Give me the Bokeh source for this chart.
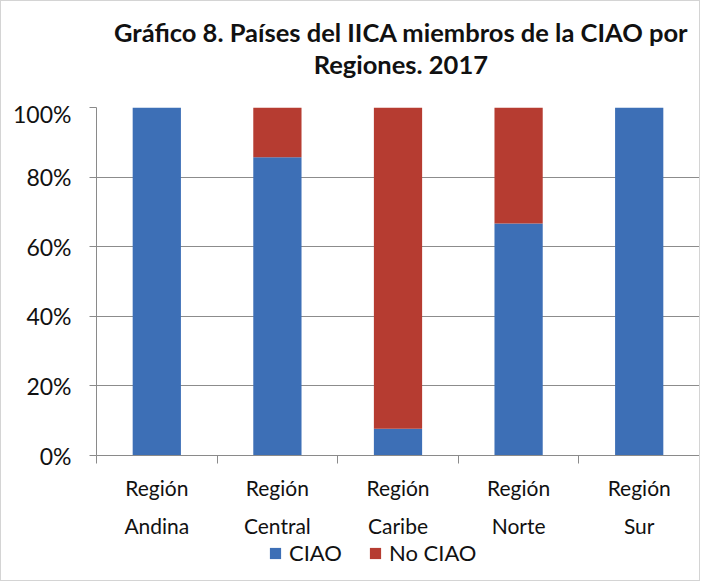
from bokeh.plotting import figure
from bokeh.layouts import column
from bokeh.models import (Range1d, FixedTicker, NumeralTickFormatter, LinearAxis,
                          Legend, LegendItem, Div)
from bokeh.embed import file_html
from bokeh.resources import INLINE

categories_line1 = ["Región", "Región", "Región", "Región", "Región"]
categories_line2 = ["Andina", "Central", "Caribe", "Norte", "Sur"]
series = ["CIAO", "No CIAO"]
ciao = [1.0, 0.857, 0.077, 0.667, 1.0]
no_ciao = [0.0, 0.143, 0.923, 0.333, 0.0]
y_ticks = [0, 0.2, 0.4, 0.6, 0.8, 1.0]
title_lines = ["Gráfico 8. Países del IICA miembros de la CIAO por", "Regiones. 2017"]

colors = ["#3D6FB6", "#B63C31"]
FONT = "Lato"
n = len(categories_line2)
xs = [i + 0.5 for i in range(n)]
W = 700

# title block
inner_style = ("font-family:Lato;font-weight:bold;font-size:25.5px;line-height:32px;"
               "text-align:center;color:#111111;padding:10px 0 0 84px;"
               "white-space:nowrap;position:relative;left:24px;")
title = Div(text='<div style="%s">%s</div>' % (inner_style, "<br>".join(title_lines)),
            width=W, height=88)

p = figure(width=W, height=441, output_backend="svg", toolbar_location=None,
           title=None, x_range=Range1d(0, n), y_range=Range1d(0, 1),
           min_border_left=95, min_border_right=0, min_border_top=8,
           min_border_bottom=83)
p.outline_line_color = None

source = dict(x=xs, CIAO=ciao)
source["No CIAO"] = no_ciao
rs = p.vbar_stack(series, x="x", width=0.4, color=colors, line_color=None,
                  source=source)

# y axis
p.yaxis.ticker = FixedTicker(ticks=y_ticks)
p.yaxis.formatter = NumeralTickFormatter(format="0%")
p.yaxis.major_label_text_font = FONT
p.yaxis.major_label_text_font_size = "23px"
p.yaxis.major_label_text_color = "#111111"
p.yaxis.axis_line_color = "#8a8a8a"
p.yaxis.major_tick_line_color = "#8a8a8a"
p.yaxis.major_tick_out = 7
p.yaxis.major_tick_in = 0
p.yaxis.minor_tick_line_color = None
p.yaxis.major_label_standoff = 18

p.ygrid.ticker = FixedTicker(ticks=y_ticks)
p.ygrid.grid_line_color = "#8c8c8c"
p.xgrid.grid_line_color = None

# x axis: first line of labels, ticks at boundaries (minor ticks)
xa = p.xaxis[0]
xa.ticker = FixedTicker(ticks=xs, minor_ticks=list(range(n + 1)))
xa.major_label_overrides = {x: t for x, t in zip(xs, categories_line1)}
xa.major_tick_line_color = None
xa.minor_tick_line_color = "#8a8a8a"
xa.minor_tick_out = 8
xa.minor_tick_in = 0
xa.axis_line_color = "#8a8a8a"
xa.major_label_text_font = FONT
xa.major_label_text_font_size = "21px"
xa.major_label_text_color = "#111111"
xa.major_label_standoff = 11

# second line of labels
xa2 = LinearAxis(ticker=FixedTicker(ticks=xs))
xa2.major_label_overrides = {x: t for x, t in zip(xs, categories_line2)}
xa2.axis_line_color = None
xa2.major_tick_line_color = None
xa2.minor_tick_line_color = None
xa2.major_label_text_font = FONT
xa2.major_label_text_font_size = "21px"
xa2.major_label_text_color = "#111111"
xa2.major_label_standoff = 4
p.add_layout(xa2, "below")

# legend in its own strip below (same series; the strip's bars are hidden)
lg = figure(width=W, height=40, output_backend="svg", toolbar_location=None,
            x_range=Range1d(100, 101), y_range=Range1d(5, 6),
            x_axis_type=None, y_axis_type=None,
            min_border_left=95, min_border_right=0, min_border_top=0,
            min_border_bottom=0, outline_line_color=None)
lg.grid.visible = False
lrs = lg.vbar_stack(series, x="x", width=0.4, color=colors, line_color=None,
                    source=dict(source))
for r in lrs:
    r.visible = False
legend = Legend(items=[LegendItem(label=s, renderers=[r]) for s, r in zip(series, lrs)],
                orientation="horizontal", location=(172, 14),
                label_text_font=FONT, label_text_font_size="22px",
                label_text_color="#111111", glyph_width=14, glyph_height=14,
                label_standoff=7, spacing=26, padding=0, margin=0,
                inactive_fill_alpha=0.0,
                border_line_color=None, background_fill_alpha=0)
lg.add_layout(legend, "center")

layout = column(title, p, lg, spacing=0, width=W)
layout.styles = {"border": "1px solid #d4d4d4"}

open("out.html", "w").write(file_html(layout, INLINE))
